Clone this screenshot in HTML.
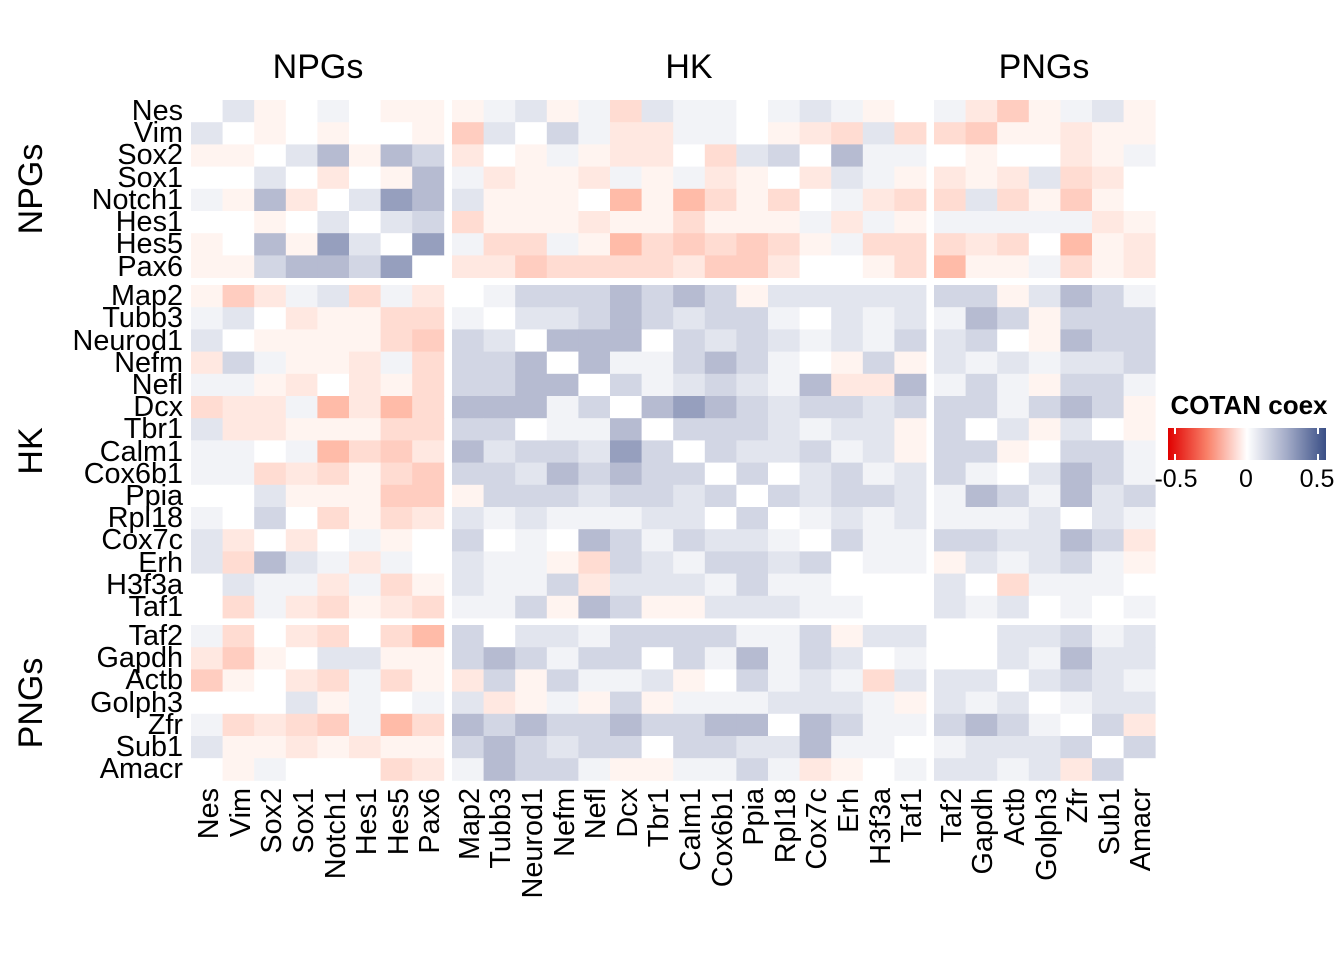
<!DOCTYPE html>
<html><head><meta charset="utf-8"><style>
html,body{margin:0;padding:0;background:#fff;}
svg{display:block;font-family:"Liberation Sans",Arial,sans-serif;}
</style></head><body>
<svg id="s" width="1344" height="960" viewBox="0 0 1344 960" xmlns="http://www.w3.org/2000/svg">
<defs><linearGradient id="g" x1="0" x2="1" y1="0" y2="0">
<stop offset="0" stop-color="#E00000"/><stop offset="0.25" stop-color="#F9826A"/><stop offset="0.5" stop-color="#FFFFFF"/><stop offset="0.75" stop-color="#A4ACC8"/><stop offset="1" stop-color="#3A4F86"/></linearGradient></defs>
<g id="cells"></g>
<g font-size="34" text-anchor="middle" fill="#000">
<text x="318" y="78">NPGs</text><text x="689" y="78">HK</text><text x="1044" y="78">PNGs</text>
<text transform="translate(42,189) rotate(-90)">NPGs</text>
<text transform="translate(42,451) rotate(-90)">HK</text>
<text transform="translate(42,703) rotate(-90)">PNGs</text>
</g>
<g font-size="28.8" text-anchor="end" fill="#000">
<text x="183" y="120">Nes</text><text x="183" y="142">Vim</text><text x="183" y="164">Sox2</text><text x="183" y="187">Sox1</text><text x="183" y="209">Notch1</text><text x="183" y="231">Hes1</text><text x="183" y="253">Hes5</text><text x="183" y="276">Pax6</text>
<text x="183" y="305">Map2</text><text x="183" y="327">Tubb3</text><text x="183" y="350">Neurod1</text><text x="183" y="372">Nefm</text><text x="183" y="394">Nefl</text><text x="183" y="416">Dcx</text><text x="183" y="438">Tbr1</text><text x="183" y="461">Calm1</text><text x="183" y="483">Cox6b1</text><text x="183" y="505">Ppia</text><text x="183" y="527">Rpl18</text><text x="183" y="549">Cox7c</text><text x="183" y="572">Erh</text><text x="183" y="594">H3f3a</text><text x="183" y="616">Taf1</text>
<text x="183" y="645">Taf2</text><text x="183" y="667">Gapdh</text><text x="183" y="689">Actb</text><text x="183" y="712">Golph3</text><text x="183" y="734">Zfr</text><text x="183" y="756">Sub1</text><text x="183" y="778">Amacr</text>
</g>
<g font-size="28.8" text-anchor="end" fill="#000">
<text transform="translate(218,788) rotate(-90)">Nes</text><text transform="translate(250,788) rotate(-90)">Vim</text><text transform="translate(281,788) rotate(-90)">Sox2</text><text transform="translate(313,788) rotate(-90)">Sox1</text><text transform="translate(345,788) rotate(-90)">Notch1</text><text transform="translate(376,788) rotate(-90)">Hes1</text><text transform="translate(408,788) rotate(-90)">Hes5</text><text transform="translate(439,788) rotate(-90)">Pax6</text>
<text transform="translate(479,788) rotate(-90)">Map2</text><text transform="translate(510,788) rotate(-90)">Tubb3</text><text transform="translate(542,788) rotate(-90)">Neurod1</text><text transform="translate(574,788) rotate(-90)">Nefm</text><text transform="translate(605,788) rotate(-90)">Nefl</text><text transform="translate(637,788) rotate(-90)">Dcx</text><text transform="translate(668,788) rotate(-90)">Tbr1</text><text transform="translate(700,788) rotate(-90)">Calm1</text><text transform="translate(732,788) rotate(-90)">Cox6b1</text><text transform="translate(763,788) rotate(-90)">Ppia</text><text transform="translate(795,788) rotate(-90)">Rpl18</text><text transform="translate(826,788) rotate(-90)">Cox7c</text><text transform="translate(858,788) rotate(-90)">Erh</text><text transform="translate(890,788) rotate(-90)">H3f3a</text><text transform="translate(921,788) rotate(-90)">Taf1</text>
<text transform="translate(961,788) rotate(-90)">Taf2</text><text transform="translate(992,788) rotate(-90)">Gapdh</text><text transform="translate(1024,788) rotate(-90)">Actb</text><text transform="translate(1056,788) rotate(-90)">Golph3</text><text transform="translate(1087,788) rotate(-90)">Zfr</text><text transform="translate(1119,788) rotate(-90)">Sub1</text><text transform="translate(1150,788) rotate(-90)">Amacr</text>
</g>
<text x="1249" y="414" font-size="26" font-weight="bold" text-anchor="middle">COTAN coex</text>
<rect x="1168" y="428" width="158" height="32" fill="url(#g)"/>
<g stroke="#fff" stroke-width="2"><line x1="1175" y1="428" x2="1175" y2="434"/><line x1="1175" y1="454" x2="1175" y2="460"/><line x1="1318" y1="428" x2="1318" y2="434"/><line x1="1318" y1="454" x2="1318" y2="460"/></g>
<g font-size="25" text-anchor="middle"><text x="1176" y="487">-0.5</text><text x="1246" y="487">0</text><text x="1317" y="487">0.5</text></g>
</svg>
<script>
var rows=[
"0Ba0A0aa"+"aABaAcBAA0ABAa0"+"AbdaABa",
"B0a0a00a"+"dB0CAbbAA0abcBc"+"cdaabaa",
"aa0BDaDC"+"b0aAabb0cBC0DAA"+"0a00baA",
"00B0b0aD"+"AbaabAaAba0bBAa"+"babBcb0",
"AaDb0BED"+"Baaa0eaecac0Abc"+"cBcada0",
"00a0B0BC"+"caaabaacaaaAbAa"+"AAAAAba",
"a0DaEB0E"+"AccAaecdcdcaAcc"+"cbc0eab",
"aaCDDCE0"+"bbdccccbddb00ac"+"eaaAcab",
"adbABcAb"+"0ACCCDCDCaBBBBB"+"CCaBDCA",
"AB0baacc"+"A0BBCDCBCCA0BAB"+"ADCaCCC",
"B0aaaacd"+"CB0DDD0CBCBABAC"+"BC0aDCC",
"bCAaabAc"+"CCD0DAACDCA0aCa"+"BABABBC",
"AAab0bac"+"CCDD0CABCBADbbD"+"ACAaCCA",
"cbbAebec"+"DDDAC0DEDCBCCBC"+"CCACDCa",
"Bbbaaacc"+"CC0AAD0CCCBABBa"+"C0BaB0a",
"AA0Aecdb"+"DBCCBEC0CBBCABa"+"CCa0CCA",
"AAcbcacd"+"CCBDCDCC0C0BCAB"+"CA0BDCA",
"00Baaadd"+"aCCCBCCBC0CBCCB"+"ADCADBC",
"A0C0cacb"+"BABAAABB0C0ABAB"+"AAAB0BA",
"Bb0b0Aa0"+"C0A0DCACBBA0CAA"+"CCBBDCb",
"BcDBAbA0"+"BAAacCBACCBC0AA"+"aBABCAa",
"0BAAbAca"+"BAACbBBBACAA000"+"B0cAAA0",
"0cAbcabc"+"AACaDCaaBBBAA00"+"BAB0A0A",
"Ac0bc0ce"+"C0BBACCCCAACaBB"+"00BBCAB",
"bda0BBaa"+"CDCACC0CADACB0A"+"00BADBB",
"da0bcAca"+"bCaCAABa0CABAcB"+"BB0BCBA",
"000BaA0A"+"BbaAaCaAAABBBAa"+"BAB0ABB",
"AcbcdAec"+"DCDCCDCCDD0DCAA"+"CDCA0Cb",
"Baababaa"+"CDCBCC0CCBBDAA0"+"ABBBC0C",
"0aA000cb"+"ADCCAaaAACAba0A"+"BBABbC0"];
var col={"0":"#FFFFFF",a:"#FFF4F0",b:"#FFE8E1",c:"#FFDCD2",d:"#FFCDC0",e:"#FFBBA8",
A:"#F2F3F7",B:"#E2E5EE",C:"#D2D6E4",D:"#B6BBD1",E:"#969FBE"};
var cw=31.6,rh=22.2;
function cx(j){return j<8?191+j*cw:(j<23?452+(j-8)*cw:934+(j-23)*cw);}
function ry(i){return i<8?100+i*rh:(i<23?285+(i-8)*rh:625+(i-23)*rh);}
var h="";
for(var i=0;i<30;i++)for(var j=0;j<30;j++){
h+='<rect x="'+cx(j).toFixed(1)+'" y="'+ry(i).toFixed(1)+'" width="'+(cw+0.4)+'" height="'+(rh+0.4)+'" fill="'+col[rows[i][j]]+'"/>';}
document.getElementById("cells").innerHTML=h;
</script>
</body></html>
